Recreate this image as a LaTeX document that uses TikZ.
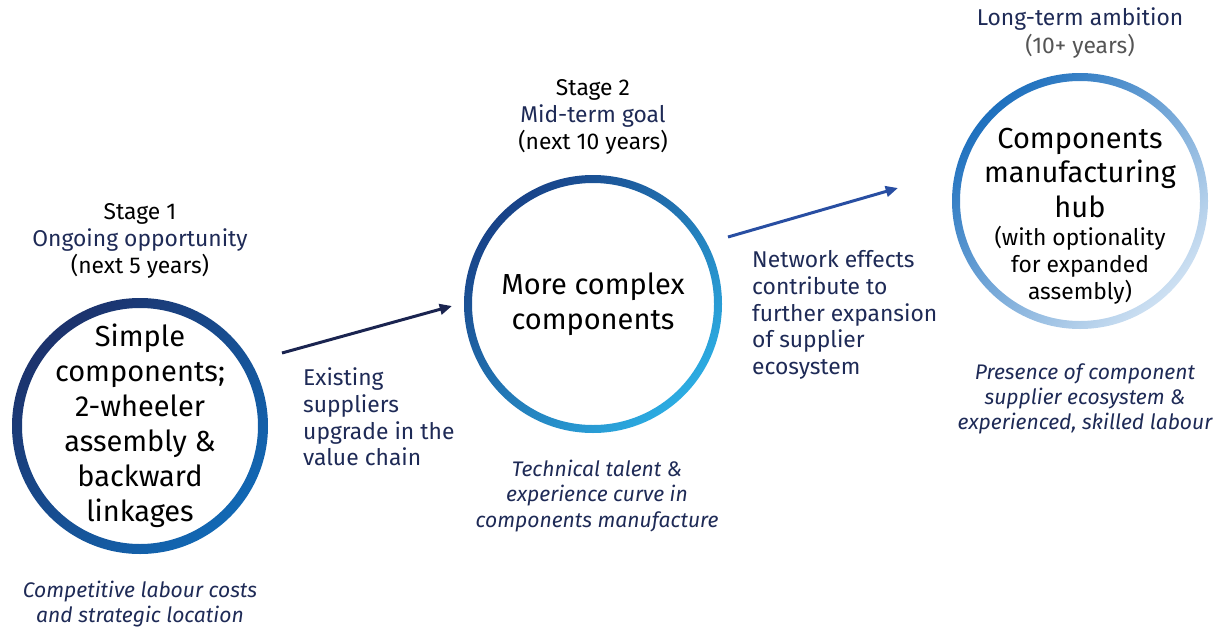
\documentclass[tikz,border=0pt]{standalone}
\usepackage{fontspec}
\setmainfont{Fira Sans}
\usetikzlibrary{arrows.meta, positioning}

\definecolor{navy}{RGB}{30,42,86}
\definecolor{arrowone}{RGB}{26,36,80}
\definecolor{arrowtwo}{RGB}{40,78,162}
\definecolor{yeargray}{RGB}{85,85,85}
\definecolor{ringonea}{RGB}{28,50,108}
\definecolor{ringoneb}{RGB}{18,104,180}
\definecolor{ringtwoa}{RGB}{24,66,136}
\definecolor{ringtwob}{RGB}{44,172,226}
\definecolor{ringthreea}{RGB}{30,112,190}
\definecolor{ringthreeb}{RGB}{205,224,242}

\newcommand{\circlefont}{\fontsize{16.5}{19.9}\selectfont}
\newcommand{\headfont}{\fontsize{13}{15.4}\selectfont}
\newcommand{\notefont}{\fontsize{13}{15.2}\selectfont}
\newcommand{\driverfont}{\fontsize{12}{14.4}\selectfont\itshape}

\tikzstyle{arrow} = [line width=1.7pt, -{Triangle[length=7pt, width=6pt]}]

\begin{document}
\begin{tikzpicture}[x=0.02cm, y=0.02cm,
    stage/.style={circle, minimum size=4.7cm, inner sep=0pt, align=center, font=\circlefont},
    heading/.style={align=center, font=\headfont},
    note/.style={align=left, anchor=west, text=navy, font=\notefont},
    driver/.style={align=center, text=navy, font=\driverfont},
]

\useasboundingbox (0,0) rectangle (1231,627);

% Stages
\node[stage] (simple) at (140,201) {Simple\\components;\\2-wheeler\\assembly \&\\backward\\linkages};
\node[stage] (complex) at (593,323) {More complex\\components};
\node[stage] (hub) at (1080,426) {};
\node[align=center, font=\circlefont] (hubtitle) at (1080,454) {Components\\manufacturing\\hub};
\node[align=center, font=\headfont] (hubnote) at (1080,362) {(with optionality\\for expanded\\assembly)};

% Rings
\shade[even odd rule, top color=ringonea, bottom color=ringoneb, shading angle=45]
    (simple.center) circle[radius=128] circle[radius=118];
\shade[even odd rule, top color=ringtwoa, bottom color=ringtwob, shading angle=45]
    (complex.center) circle[radius=129] circle[radius=121];
\shade[even odd rule, top color=ringthreea, bottom color=ringthreeb, shading angle=45]
    (hub.center) circle[radius=128] circle[radius=120];

% Headings
\node[heading] (headone) at (140,386) {Stage 1\\\textcolor{navy}{Ongoing opportunity}\\(next 5 years)};
\node[heading] (headtwo) at (593,510) {Stage 2\\\textcolor{navy}{Mid-term goal}\\(next 10 years)};
\node[heading] (headthree) at (1080,594) {\textcolor{navy}{Long-term ambition}\\\textcolor{yeargray}{(10+ years)}};

% Arrows
\coordinate (upgradefrom) at (282,274);
\coordinate (upgradeto) at (452,321);
\coordinate (networkfrom) at (728,390);
\coordinate (networkto) at (898,439);
\draw[arrow, arrowone] (upgradefrom) -- (upgradeto);
\draw[arrow, arrowtwo] (networkfrom) -- (networkto);

% Arrow notes
\node[note] (upgrade) at (297,210) {Existing\\suppliers\\upgrade in the\\value chain};
\node[note] (network) at (746,312) {Network effects\\contribute to\\further expansion\\of supplier\\ecosystem};

% Drivers
\node[driver] (driverone) at (140,23) {Competitive labour costs\\and strategic location};
\node[driver] (drivertwo) at (597,131) {Technical talent \&\\experience curve in\\components manufacture};
\node[driver] (driverthree) at (1085,228) {Presence of component\\supplier ecosystem \&\\experienced, skilled labour};

\end{tikzpicture}
\end{document}
